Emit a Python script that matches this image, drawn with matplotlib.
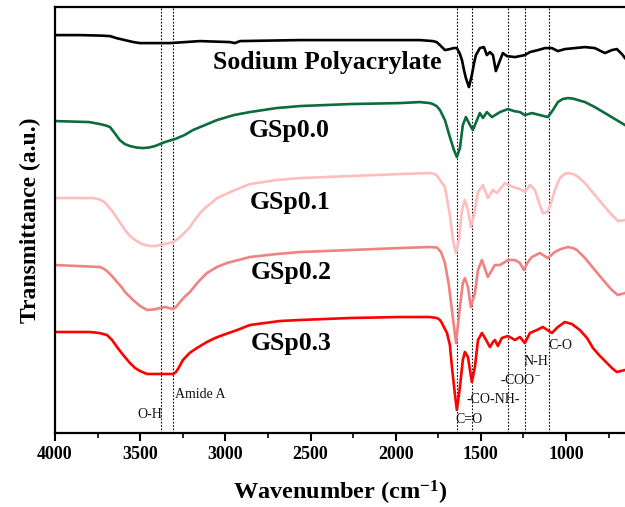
import numpy as np
import matplotlib
matplotlib.use("Agg")
import matplotlib.pyplot as plt
from matplotlib.ticker import MultipleLocator

plt.rcParams['font.family'] = ['Liberation Serif', 'DejaVu Serif']
plt.rcParams['mathtext.fontset'] = 'custom'
plt.rcParams['mathtext.rm'] = 'Liberation Serif'
plt.rcParams['mathtext.bf'] = 'Liberation Serif:bold'
plt.rcParams['mathtext.default'] = 'regular'

# spectra: wavenumber (cm-1) and transmittance (a.u., stacked)
wn_spa = [4000, 3853, 3736, 3677, 3640, 3590, 3540, 3501, 3325, 3237, 3149, 2973, 2944, 2914,
          2562, 1975, 1858, 1782, 1760, 1740, 1711, 1682, 1660, 1641, 1625, 1611, 1598, 1588,
          1570, 1553, 1540, 1529, 1506, 1482, 1465, 1447, 1429, 1412, 1394, 1371, 1347, 1300,
          1242, 1212, 1165, 1124, 1083, 1048, 1007, 948, 889, 831, 772, 731, 702, 672, 654]
t_spa = [398, 398, 397.5, 397, 395, 393, 391, 390, 390, 391, 392, 391, 390, 392,
         393, 393, 393, 392, 391, 388, 383, 384, 385, 385, 380, 373, 362, 355,
         346, 358, 370, 378, 385, 386, 378, 381, 378, 362, 370, 380, 377, 376,
         378, 381, 383, 385, 385, 382, 384, 385, 386, 385, 380, 383, 384, 379, 375]

wn_g00 = [4000, 3800, 3736, 3700, 3677, 3650, 3620, 3590, 3560, 3520, 3484, 3450, 3413, 3354,
          3296, 3240, 3190, 3120, 3049, 2950, 2856, 2700, 2562, 2269, 1975, 1858, 1800, 1782,
          1760, 1740, 1711, 1682, 1658, 1641, 1623, 1606, 1588, 1564, 1547, 1523, 1506, 1488,
          1465, 1435, 1388, 1341, 1306, 1271, 1242, 1200, 1154, 1107, 1077, 1048, 1020, 989,
          960, 930, 889, 831, 772, 713, 654]
t_g00 = [312, 311, 309, 307.5, 306, 300, 293, 289, 287, 285.5, 285, 285.5, 287, 291,
         294, 298, 303, 308, 313, 318, 321, 325, 327, 329, 330, 331, 330, 329,
         327, 323, 313, 296, 283, 276, 285, 308, 316, 308, 303, 313, 320, 315,
         321, 316, 321, 324, 322, 321, 318, 320, 318, 316, 323, 331, 334, 335,
         334.5, 333, 331, 326, 320, 314, 308]

wn_g01 = [4000, 3777, 3736, 3710, 3695, 3670, 3648, 3620, 3589, 3560, 3530, 3490, 3442, 3410,
          3384, 3340, 3307, 3280, 3254, 3230, 3208, 3180, 3149, 3120, 3090, 3049, 2944, 2856,
          2700, 2562, 2269, 1975, 1800, 1782, 1760, 1740, 1711, 1682, 1664, 1646, 1629, 1611,
          1594, 1576, 1559, 1541, 1517, 1488, 1459, 1429, 1406, 1359, 1312, 1271, 1242, 1212,
          1183, 1154, 1136, 1107, 1083, 1066, 1036, 1010, 989, 960, 936, 889, 831, 772,
          731, 696, 654]
t_g01 = [235, 235, 233.5, 231, 228, 223, 218, 211, 203, 197, 193, 189, 187, 187,
         188, 189.5, 191, 194, 198, 202, 206, 213, 220, 225, 229, 235, 243, 249,
         253, 255, 257, 259, 260, 259.5, 258, 253, 246, 218, 193, 180, 193, 223,
         233, 223, 206, 218, 241, 248, 235, 243, 240, 250, 246, 244, 241, 248,
         243, 228, 220, 221, 233, 243, 255, 259, 260, 259, 257, 250, 238, 226,
         218, 212, 213]

wn_g02 = [4000, 3736, 3710, 3689, 3660, 3636, 3610, 3589, 3542, 3500, 3460, 3420, 3384, 3354,
          3307, 3290, 3266, 3240, 3208, 3160, 3108, 3050, 2991, 2856, 2700, 2562, 2269, 1975,
          1800, 1758, 1734, 1711, 1688, 1670, 1646, 1623, 1606, 1594, 1576, 1559, 1535, 1517,
          1494, 1459, 1418, 1388, 1341, 1300, 1271, 1248, 1224, 1200, 1154, 1107, 1066, 1030,
          989, 960, 936, 889, 831, 772, 731, 696, 654]
t_g02 = [168, 166, 164, 161, 156, 151, 146, 141, 133, 127, 123, 123.5, 125, 126,
         124, 126, 131, 136, 141, 151, 160, 166, 170, 176, 179, 181, 183, 185,
         186, 185.5, 181, 170, 148, 123, 90, 126, 150, 155, 146, 126, 140, 163,
         173, 156, 168, 168, 173, 173, 170, 163, 171, 176, 180, 175, 181, 184,
         186, 185, 183, 175, 163, 151, 143, 138, 140]

wn_g03 = [4000, 3795, 3740, 3695, 3665, 3636, 3600, 3560, 3530, 3501, 3460, 3307, 3290, 3278,
          3249, 3210, 3167, 3108, 3060, 3014, 2930, 2856, 2680, 2562, 2269, 1975, 1800, 1758,
          1740, 1729, 1699, 1682, 1670, 1652, 1641, 1623, 1606, 1594, 1576, 1553, 1535, 1517,
          1494, 1476, 1447, 1429, 1418, 1400, 1377, 1341, 1300, 1271, 1242, 1212, 1171, 1136,
          1083, 1048, 1007, 966, 919, 877, 842, 801, 760, 731, 702, 654]
t_g03 = [101, 101, 100, 98, 93, 86, 78, 70, 65, 62, 59, 59, 61, 64,
         73, 80, 85, 91, 95, 98, 103, 108, 112, 113, 115, 116, 116, 115,
         113, 110, 100, 88, 66, 38, 23, 46, 73, 81, 76, 51, 66, 93,
         100, 95, 86, 91, 93, 87, 95, 97, 93, 96, 90, 100, 103, 106,
         100, 106, 111, 109, 103, 95, 85, 77, 70, 65, 61, 63]

series = ['Sodium Polyacrylate', 'GSp0.0', 'GSp0.1', 'GSp0.2', 'GSp0.3']
colors = ['black', '#0d6b3d', '#ffbdbd', '#f08282', '#ff0000']
label_pos = [(2404, 371), (2627, 303), (2621, 231), (2615, 161), (2615, 90)]

# band assignments
bands = [3380, 3306, 1643, 1555, 1343, 1242, 1099]
band_labels = ['O-H', 'Amide A', 'C=O', '-CO-NH-', '-COO$^{-}$', 'N-H', 'C-O']
band_text = [(3442, 18, 'center'), (3296, 38, 'left'), (1650, 13, 'left'),
             (1585, 33, 'left'), (1390, 53, 'left'), (1250, 71, 'left'),
             (1103, 88, 'left')]

fig = plt.figure(figsize=(6.25, 5.07), dpi=100)
ax = fig.add_axes([0.088, 0.146, 0.912, 0.840])

data = [(wn_spa, t_spa), (wn_g00, t_g00), (wn_g01, t_g01), (wn_g02, t_g02), (wn_g03, t_g03)]
for (x, y), c in zip(data, colors):
    ax.plot(x, y, color=c, lw=1.9, solid_joinstyle='round')

for b in bands:
    ax.axvline(b, color='black', ls=(0, (1.5, 1.5)), lw=0.8, zorder=1)

for name, (px, py) in zip(series, label_pos):
    ax.text(px, py, name, fontsize=18.5, fontweight='bold', ha='center', va='center')

for lab, (px, py, ha) in zip(band_labels, band_text):
    ax.text(px, py, lab, fontsize=10, ha=ha, va='center', color='#111111')

ax.set_xlim(4000, 654)
ax.set_ylim(0, 426)
ax.xaxis.set_major_locator(MultipleLocator(500))
ax.xaxis.set_minor_locator(MultipleLocator(250))
ax.tick_params(axis='x', which='major', direction='out', length=6, width=1.5,
               labelsize=13, top=False)
ax.tick_params(axis='x', which='minor', direction='out', length=3.5, width=1.2, top=False)
ax.set_yticks([])
for lbl in ax.get_xticklabels():
    lbl.set_fontweight('bold')
for s in ['left', 'bottom', 'top']:
    ax.spines[s].set_linewidth(1.6)
ax.spines['right'].set_visible(False)

ax.set_xlabel('Wavenumber (cm$\\mathbf{^{-1}}$)', fontsize=17.5, fontweight='bold', labelpad=11)
ax.set_ylabel('Transmittance (a.u.)', fontsize=17, fontweight='bold', labelpad=10)

fig.savefig('out.png', dpi=100)
